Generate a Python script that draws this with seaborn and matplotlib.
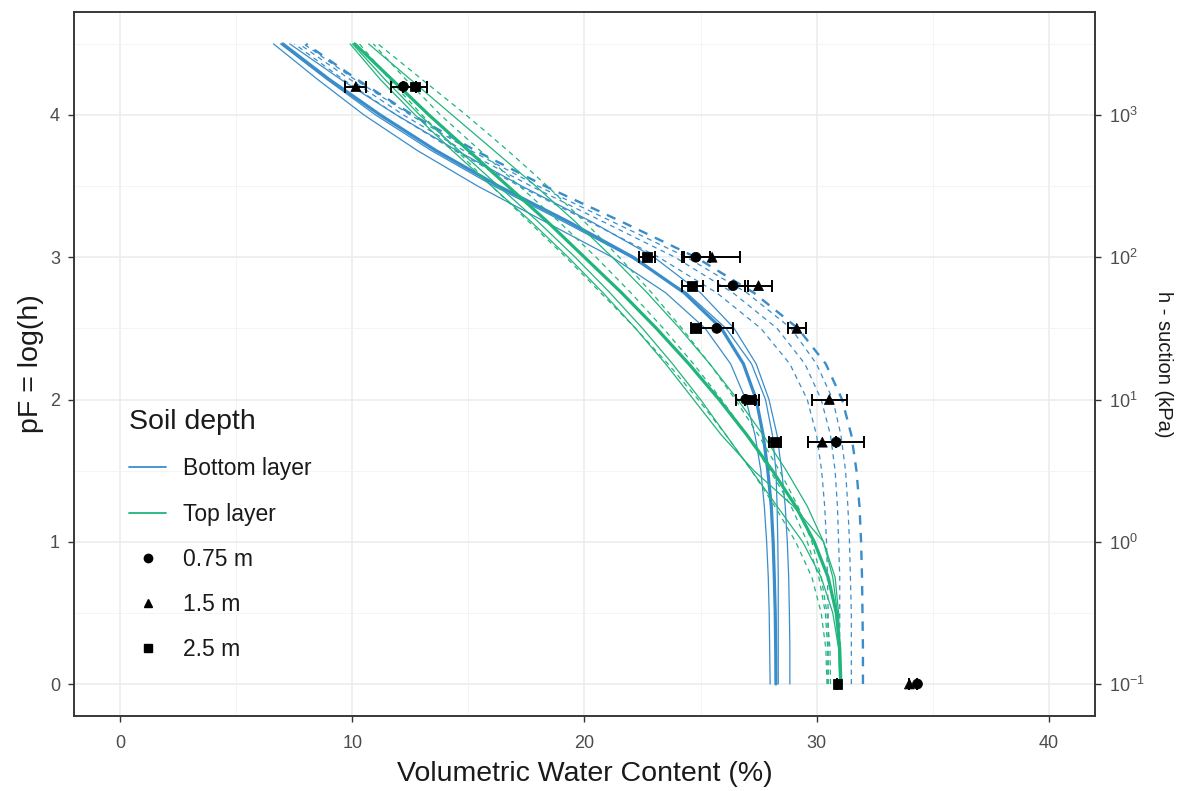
import pandas as pd
import matplotlib
matplotlib.use('Agg')
import matplotlib.pyplot as plt
from matplotlib.lines import Line2D
import seaborn as sns

# pF levels at which the fitted retention curves were read
pf_grid = [0, 0.25, 0.5, 0.75, 1.0, 1.25, 1.5, 1.75, 2.0, 2.25,
           2.5, 2.75, 3.0, 3.25, 3.5, 3.75, 4.0, 4.25, 4.5]

# bottom layer fits (blue)
bot_solid_mean = [28.25, 28.24, 28.22, 28.18, 28.13, 28.05, 27.9, 27.7, 27.4, 26.85, 25.9, 24.3, 22.1, 19.3, 16.3, 13.6, 11.2, 9.0, 7.0]
bot_solid_a = [28.0, 27.98, 27.96, 27.92, 27.85, 27.75, 27.6, 27.35, 26.95, 26.3, 25.2, 23.5, 21.2, 18.3, 15.4, 12.8, 10.5, 8.5, 6.6]
bot_solid_b = [28.85, 28.85, 28.83, 28.8, 28.74, 28.65, 28.5, 28.3, 27.95, 27.4, 26.45, 25.0, 23.0, 20.3, 17.3, 14.5, 11.9, 9.5, 7.3]
bot_solid_c = [28.35, 28.35, 28.35, 28.35, 28.33, 28.3, 28.25, 28.1, 27.8, 27.2, 26.1, 24.4, 22.0, 19.1, 16.1, 13.4, 11.0, 8.9, 6.9]
bot_dash_mean = [32.0, 32.0, 31.98, 31.96, 31.92, 31.85, 31.72, 31.5, 31.1, 30.4, 29.2, 27.3, 24.8, 21.6, 18.3, 15.3, 12.6, 10.2, 8.0]
bot_dash_a = [30.5, 30.5, 30.5, 30.47, 30.43, 30.35, 30.22, 30.0, 29.6, 28.85, 27.6, 25.7, 23.2, 20.2, 17.2, 14.4, 11.9, 9.6, 7.5]
bot_dash_b = [31.0, 31.0, 31.0, 31.0, 30.95, 30.9, 30.8, 30.6, 30.2, 29.5, 28.3, 26.4, 23.9, 20.8, 17.7, 14.8, 12.2, 9.9, 7.7]
bot_dash_c = [31.5, 31.5, 31.5, 31.46, 31.42, 31.35, 31.25, 31.05, 30.7, 30.0, 28.9, 27.0, 24.4, 21.2, 18.0, 15.1, 12.5, 10.1, 7.9]

# top layer fits (green)
top_solid_mean = [31.05, 31.0, 30.85, 30.5, 29.9, 29.1, 28.1, 27.0, 25.8, 24.5, 23.1, 21.6, 20.0, 18.4, 16.7, 15.0, 13.3, 11.7, 10.1]
top_solid_a = [31.0, 30.95, 30.7, 30.2, 29.4, 28.3, 27.2, 26.1, 25.0, 23.8, 22.5, 21.1, 19.6, 18.0, 16.3, 14.6, 12.9, 11.4, 10.0]
top_solid_b = [31.0, 30.98, 30.9, 30.7, 30.3, 29.6, 28.7, 27.7, 26.6, 25.4, 24.1, 22.7, 21.2, 19.6, 17.9, 16.1, 14.3, 12.5, 10.7]
top_solid_c = [31.0, 31.0, 30.95, 30.8, 30.3, 29.0, 27.3, 25.9, 24.7, 23.5, 22.2, 20.8, 19.3, 17.7, 16.0, 14.3, 12.7, 11.2, 9.9]
top_dash_a = [30.45, 30.4, 30.2, 29.8, 29.1, 28.2, 27.2, 26.1, 24.9, 23.6, 22.2, 20.7, 19.2, 17.6, 16.0, 14.5, 13.0, 11.6, 10.3]
top_dash_b = [30.6, 30.58, 30.45, 30.2, 29.8, 29.2, 28.4, 27.5, 26.5, 25.4, 24.2, 22.9, 21.5, 20.0, 18.4, 16.7, 14.9, 13.0, 11.1]
top_dash_c = [30.5, 30.48, 30.38, 30.1, 29.6, 28.9, 28.0, 27.0, 25.9, 24.7, 23.4, 22.0, 20.5, 18.9, 17.2, 15.5, 13.8, 12.3, 10.9]

curves = [
    ('Bottom layer', 'solid', 'thin', bot_solid_a),
    ('Bottom layer', 'solid', 'thin', bot_solid_b),
    ('Bottom layer', 'solid', 'thin', bot_solid_c),
    ('Bottom layer', 'dashed', 'thin', bot_dash_a),
    ('Bottom layer', 'dashed', 'thin', bot_dash_b),
    ('Bottom layer', 'dashed', 'thin', bot_dash_c),
    ('Bottom layer', 'dashed', 'mid', bot_dash_mean),
    ('Top layer', 'solid', 'thin', top_solid_a),
    ('Top layer', 'solid', 'thin', top_solid_b),
    ('Top layer', 'solid', 'thin', top_solid_c),
    ('Top layer', 'dashed', 'thin', top_dash_a),
    ('Top layer', 'dashed', 'thin', top_dash_b),
    ('Top layer', 'dashed', 'thin', top_dash_c),
    ('Top layer', 'solid', 'thick', top_solid_mean),
    ('Bottom layer', 'solid', 'thick', bot_solid_mean),
]

# measured points: pF, mean water content, error half-width
depth_labels = ['0.75 m', '1.5 m', '2.5 m']
obs_pf = [0, 1.7, 2.0, 2.5, 2.8, 3.0, 4.2]
obs_075 = [34.35, 30.85, 26.95, 25.7, 26.4, 24.8, 12.2]
err_075 = [0.0, 1.2, 0.4, 0.7, 0.65, 0.6, 0.55]
obs_15 = [34.0, 30.25, 30.55, 29.15, 27.5, 25.5, 10.15]
err_15 = [0.0, 0.6, 0.75, 0.4, 0.6, 1.2, 0.45]
obs_25 = [30.9, 28.2, 27.2, 24.8, 24.65, 22.7, 12.7]
err_25 = [0.0, 0.25, 0.3, 0.2, 0.45, 0.35, 0.5]

right_ticks = [r'$10^{-1}$', r'$10^{0}$', r'$10^{1}$', r'$10^{2}$', r'$10^{3}$']

layer_colors = {'Bottom layer': '#3A8DCB', 'Top layer': '#1FB57B'}

rows = []
for i, (layer, kind, weight, vals) in enumerate(curves):
    for p, t in zip(pf_grid, vals):
        rows.append({'curve': i, 'layer': layer, 'kind': kind, 'weight': weight, 'pF': p, 'theta': t})
fits = pd.DataFrame(rows)

pts = pd.DataFrame({
    'pF': obs_pf * 3,
    'theta': obs_075 + obs_15 + obs_25,
    'err': err_075 + err_15 + err_25,
    'depth': [d for d in depth_labels for _ in obs_pf],
})

sns.set_theme(style='whitegrid')
plt.rcParams['font.family'] = ['Liberation Sans', 'DejaVu Sans']
plt.rcParams['mathtext.default'] = 'regular'

fig = plt.figure(figsize=(11.87, 7.91), dpi=100)
ax = fig.add_axes([0.0623, 0.0948, 0.8602, 0.8902])

sns.lineplot(data=fits, x='theta', y='pF', hue='layer', style='kind', size='weight',
             units='curve', estimator=None, sort=False, palette=layer_colors,
             dashes={'solid': '', 'dashed': (4, 3.5)},
             sizes={'thin': 0.9, 'mid': 1.7, 'thick': 2.3},
             legend=False, ax=ax)

ax.errorbar(pts['theta'], pts['pF'], xerr=pts['err'], fmt='none', ecolor='black',
            elinewidth=1.4, capsize=4.5, capthick=1.4, zorder=4)
sns.scatterplot(data=pts, x='theta', y='pF', style='depth',
                markers={'0.75 m': 'o', '1.5 m': '^', '2.5 m': 's'},
                color='black', edgecolor='black', s=50, legend=False, zorder=5, ax=ax)

ax.set_xlim(-2, 42)
ax.set_ylim(-0.225, 4.725)
ax.set_xticks([0, 10, 20, 30, 40])
ax.set_xticks([5, 15, 25, 35], minor=True)
ax.set_yticks([0, 1, 2, 3, 4])
ax.set_yticks([0.5, 1.5, 2.5, 3.5, 4.5], minor=True)
ax.grid(which='major', color='#EBEBEB', linewidth=1.1)
ax.grid(which='minor', color='#F2F2F2', linewidth=0.6)
ax.set_axisbelow(True)
for s in ax.spines.values():
    s.set_color('#333333')
    s.set_linewidth(1.1)
ax.tick_params(axis='both', which='major', length=4, width=1, color='#333333',
               labelsize=13, labelcolor='#4D4D4D', direction='out', bottom=True, left=True)
ax.tick_params(axis='x', which='major', pad=10)
ax.tick_params(axis='y', which='major', pad=6)
ax.tick_params(which='minor', length=0)
ax.set_xlabel('Volumetric Water Content (%)', fontsize=20.5, color='#1A1A1A', labelpad=6)
ax.set_ylabel('pF = log(h)', fontsize=20.5, color='#1A1A1A', labelpad=4)

ax2 = ax.twinx()
ax2.set_ylim(ax.get_ylim())
ax2.set_yticks([0, 1, 2, 3, 4])
ax2.set_yticklabels(right_ticks)
ax2.grid(False)
ax2.tick_params(axis='y', length=4, width=1, color='#333333', labelsize=13,
                labelcolor='#4D4D4D', direction='out', right=True, pad=6)
ax2.set_ylabel('h - suction (kPa)', fontsize=14.5, color='#1A1A1A', rotation=270, labelpad=20)
for s in ax2.spines.values():
    s.set_color('#333333')
    s.set_linewidth(1.1)

handles = [
    Line2D([], [], color=layer_colors['Bottom layer'], lw=1.3),
    Line2D([], [], color=layer_colors['Top layer'], lw=1.3),
    Line2D([], [], color='black', marker='o', ls='', ms=6),
    Line2D([], [], color='black', marker='^', ls='', ms=6),
    Line2D([], [], color='black', marker='s', ls='', ms=6),
]
leg = ax.legend(handles, ['Bottom layer', 'Top layer'] + depth_labels, title='Soil depth',
                loc='upper left', bbox_to_anchor=(0.043, 0.452), frameon=False, borderpad=0,
                fontsize=16.5, title_fontsize=20.5, labelspacing=0.97, handlelength=1.6,
                handletextpad=0.75, alignment='left')
leg.get_title().set_color('#1A1A1A')
for t in leg.get_texts():
    t.set_color('#1A1A1A')

fig.savefig('out.png', dpi=100)
